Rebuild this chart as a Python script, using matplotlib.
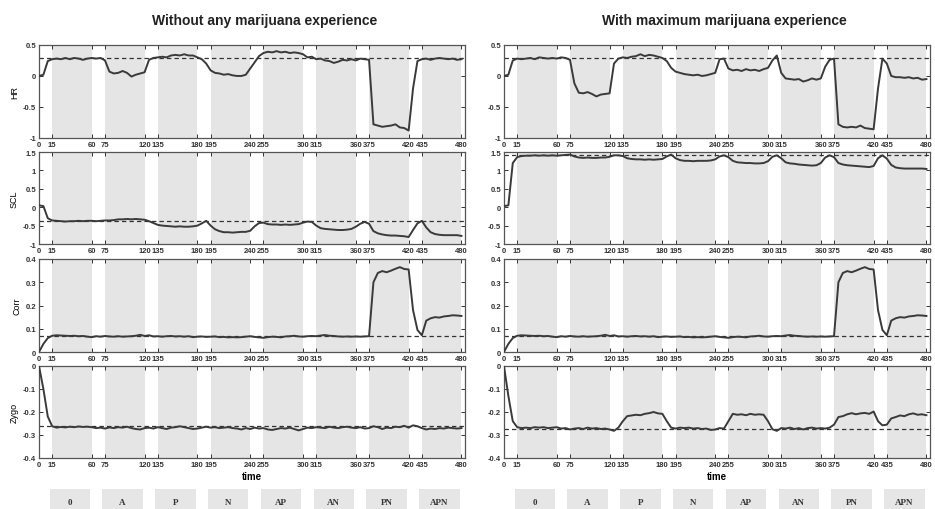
#!/usr/bin/env python3

import numpy as np
import matplotlib
matplotlib.use('Agg')
import matplotlib.pyplot as plt
from matplotlib.patches import Rectangle

plt.rcParams['font.family'] = ['Liberation Sans', 'DejaVu Sans']
plt.rcParams['axes.unicode_minus'] = False

# sampling grid (s)
TIME = np.arange(0, 485, 5)

CONDITIONS = ['0', 'A', 'P', 'N', 'AP', 'AN', 'PN', 'APN']
SEGMENT_STARTS = [15, 75, 135, 195, 255, 315, 375, 435]
SEGMENT_LEN = 45
XTICKS = [0, 15, 60, 75, 120, 135, 180, 195, 240, 255, 300, 315, 360, 375, 420, 435, 480]

TITLES = ['Without any marijuana experience', 'With maximum marijuana experience']
ROW_NAMES = ['HR', 'SCL', 'Corr', 'Zygo']

HR_LEFT = [
    0.00, 0.02, 0.24, 0.27, 0.28, 0.27, 0.29, 0.27, 0.29, 0.28, 0.26, 0.28,
    0.29, 0.28, 0.29, 0.25, 0.07, 0.04, 0.05, 0.08, 0.05, -0.01, 0.02, 0.04,
    0.06, 0.26, 0.29, 0.30, 0.31, 0.30, 0.33, 0.34, 0.33, 0.35, 0.33, 0.33,
    0.30, 0.27, 0.20, 0.09, 0.05, 0.04, 0.02, 0.03, 0.01, 0.00, 0.00, 0.02,
    0.12, 0.22, 0.32, 0.37, 0.39, 0.38, 0.40, 0.38, 0.39, 0.37, 0.38, 0.37,
    0.35, 0.30, 0.31, 0.27, 0.28, 0.25, 0.24, 0.21, 0.23, 0.26, 0.25, 0.27,
    0.25, 0.28, 0.27, 0.26, -0.78, -0.80, -0.82, -0.81, -0.80, -0.78, -0.83, -0.84,
    -0.88, -0.20, 0.24, 0.27, 0.28, 0.26, 0.28, 0.29, 0.28, 0.27, 0.28, 0.26,
    0.27]
SCL_LEFT = [
    0.05, 0.03, -0.30, -0.36, -0.37, -0.38, -0.39, -0.38, -0.38, -0.37, -0.38, -0.37,
    -0.37, -0.38, -0.37, -0.36, -0.36, -0.35, -0.33, -0.33, -0.32, -0.33, -0.32, -0.33,
    -0.34, -0.38, -0.43, -0.48, -0.50, -0.51, -0.52, -0.53, -0.52, -0.53, -0.53, -0.52,
    -0.50, -0.44, -0.37, -0.50, -0.60, -0.65, -0.68, -0.68, -0.69, -0.68, -0.67, -0.67,
    -0.64, -0.52, -0.43, -0.42, -0.46, -0.47, -0.47, -0.48, -0.47, -0.48, -0.47, -0.46,
    -0.42, -0.39, -0.40, -0.50, -0.57, -0.59, -0.60, -0.61, -0.62, -0.62, -0.61, -0.59,
    -0.53, -0.45, -0.40, -0.45, -0.65, -0.71, -0.74, -0.76, -0.77, -0.77, -0.78, -0.79,
    -0.81, -0.62, -0.44, -0.37, -0.55, -0.68, -0.73, -0.75, -0.76, -0.76, -0.76, -0.76,
    -0.78]
CORR_LEFT = [
    0.000, 0.035, 0.060, 0.070, 0.072, 0.071, 0.070, 0.069, 0.070, 0.068, 0.069, 0.066,
    0.064, 0.068, 0.066, 0.069, 0.067, 0.066, 0.068, 0.066, 0.067, 0.068, 0.070, 0.074,
    0.069, 0.072, 0.067, 0.068, 0.066, 0.068, 0.069, 0.067, 0.068, 0.066, 0.068, 0.064,
    0.066, 0.067, 0.065, 0.066, 0.067, 0.064, 0.065, 0.063, 0.064, 0.063, 0.064, 0.066,
    0.068, 0.065, 0.063, 0.061, 0.064, 0.066, 0.065, 0.063, 0.067, 0.068, 0.070, 0.067,
    0.066, 0.068, 0.069, 0.068, 0.071, 0.073, 0.070, 0.069, 0.067, 0.066, 0.067, 0.066,
    0.067, 0.066, 0.067, 0.068, 0.300, 0.340, 0.348, 0.343, 0.350, 0.358, 0.365, 0.357,
    0.355, 0.180, 0.095, 0.072, 0.135, 0.145, 0.150, 0.148, 0.153, 0.155, 0.158, 0.157,
    0.155]
ZYGO_LEFT = [
    0.000, -0.100, -0.220, -0.262, -0.268, -0.265, -0.267, -0.264, -0.266, -0.263, -0.265, -0.264,
    -0.266, -0.270, -0.268, -0.272, -0.267, -0.270, -0.266, -0.268, -0.264, -0.270, -0.274, -0.276,
    -0.270, -0.268, -0.272, -0.266, -0.270, -0.274, -0.268, -0.266, -0.262, -0.266, -0.270, -0.274,
    -0.272, -0.268, -0.264, -0.268, -0.266, -0.270, -0.268, -0.266, -0.270, -0.272, -0.276, -0.270,
    -0.274, -0.268, -0.272, -0.270, -0.276, -0.278, -0.274, -0.270, -0.272, -0.268, -0.274, -0.280,
    -0.274, -0.268, -0.270, -0.266, -0.268, -0.270, -0.264, -0.268, -0.270, -0.266, -0.264, -0.268,
    -0.270, -0.266, -0.272, -0.270, -0.262, -0.266, -0.274, -0.268, -0.270, -0.264, -0.266, -0.260,
    -0.268, -0.258, -0.262, -0.270, -0.276, -0.272, -0.274, -0.270, -0.272, -0.268, -0.270, -0.272,
    -0.270]

HR_RIGHT = [
    0.00, 0.02, 0.25, 0.28, 0.27, 0.28, 0.29, 0.27, 0.30, 0.29, 0.28, 0.29,
    0.28, 0.30, 0.29, 0.26, -0.12, -0.27, -0.28, -0.26, -0.29, -0.33, -0.30, -0.29,
    -0.28, 0.20, 0.28, 0.30, 0.29, 0.31, 0.32, 0.35, 0.32, 0.34, 0.33, 0.31,
    0.29, 0.24, 0.13, 0.07, 0.05, 0.03, 0.02, 0.01, 0.02, 0.00, 0.01, 0.03,
    0.05, 0.27, 0.28, 0.12, 0.09, 0.10, 0.08, 0.11, 0.09, 0.10, 0.08, 0.11,
    0.13, 0.25, 0.33, 0.05, -0.04, -0.05, -0.06, -0.05, -0.09, -0.07, -0.04, -0.06,
    -0.04, 0.15, 0.26, 0.28, -0.78, -0.82, -0.83, -0.82, -0.83, -0.80, -0.84, -0.85,
    -0.86, -0.20, 0.28, 0.20, 0.00, -0.02, -0.02, -0.03, -0.02, -0.04, -0.03, -0.06,
    -0.05]
SCL_RIGHT = [
    0.03, 0.05, 1.20, 1.36, 1.39, 1.40, 1.40, 1.41, 1.40, 1.41, 1.40, 1.41,
    1.40, 1.41, 1.42, 1.43, 1.38, 1.35, 1.34, 1.35, 1.34, 1.34, 1.35, 1.35,
    1.37, 1.41, 1.41, 1.39, 1.33, 1.31, 1.30, 1.30, 1.29, 1.30, 1.29, 1.30,
    1.31, 1.38, 1.43, 1.33, 1.28, 1.26, 1.26, 1.25, 1.26, 1.26, 1.26, 1.27,
    1.30, 1.38, 1.41, 1.36, 1.26, 1.22, 1.21, 1.20, 1.20, 1.19, 1.19, 1.20,
    1.25, 1.37, 1.41, 1.33, 1.22, 1.19, 1.18, 1.16, 1.15, 1.14, 1.13, 1.14,
    1.20, 1.35, 1.41, 1.36, 1.20, 1.16, 1.14, 1.13, 1.12, 1.11, 1.10, 1.09,
    1.12, 1.33, 1.41, 1.32, 1.15, 1.08, 1.06, 1.05, 1.05, 1.05, 1.05, 1.05,
    1.04]
CORR_RIGHT = [
    0.000, 0.035, 0.060, 0.070, 0.072, 0.071, 0.070, 0.069, 0.070, 0.068, 0.069, 0.066,
    0.064, 0.068, 0.066, 0.069, 0.067, 0.066, 0.068, 0.066, 0.067, 0.068, 0.070, 0.074,
    0.069, 0.072, 0.067, 0.068, 0.066, 0.068, 0.069, 0.067, 0.068, 0.066, 0.068, 0.064,
    0.066, 0.067, 0.065, 0.066, 0.067, 0.064, 0.065, 0.063, 0.064, 0.063, 0.064, 0.066,
    0.068, 0.065, 0.063, 0.061, 0.064, 0.066, 0.065, 0.063, 0.067, 0.068, 0.070, 0.067,
    0.066, 0.068, 0.069, 0.068, 0.071, 0.073, 0.070, 0.069, 0.067, 0.066, 0.067, 0.066,
    0.067, 0.066, 0.067, 0.068, 0.300, 0.340, 0.348, 0.343, 0.350, 0.358, 0.365, 0.357,
    0.355, 0.180, 0.095, 0.072, 0.135, 0.145, 0.150, 0.148, 0.153, 0.155, 0.158, 0.157,
    0.155]
ZYGO_RIGHT = [
    0.000, -0.130, -0.240, -0.266, -0.270, -0.268, -0.270, -0.266, -0.268, -0.266, -0.270, -0.268,
    -0.266, -0.272, -0.270, -0.276, -0.272, -0.270, -0.274, -0.268, -0.272, -0.270, -0.274, -0.272,
    -0.276, -0.282, -0.268, -0.240, -0.218, -0.215, -0.212, -0.214, -0.208, -0.205, -0.200, -0.206,
    -0.208, -0.240, -0.268, -0.272, -0.268, -0.270, -0.268, -0.272, -0.270, -0.274, -0.272, -0.278,
    -0.276, -0.270, -0.272, -0.240, -0.208, -0.212, -0.210, -0.214, -0.208, -0.212, -0.210, -0.212,
    -0.240, -0.275, -0.282, -0.270, -0.272, -0.268, -0.274, -0.270, -0.276, -0.270, -0.268, -0.272,
    -0.270, -0.272, -0.268, -0.255, -0.222, -0.218, -0.210, -0.205, -0.210, -0.206, -0.204, -0.208,
    -0.198, -0.240, -0.258, -0.255, -0.228, -0.222, -0.215, -0.218, -0.210, -0.206, -0.212, -0.210,
    -0.214]

# dashed reference level per panel
BASE_LEFT = [0.295, -0.37, 0.069, -0.263]
BASE_RIGHT = [0.295, 1.41, 0.069, -0.274]

YLIMS = [(-1, 0.5), (-1, 1.5), (0, 0.4), (-0.4, 0)]
YTICKS = [
    [-1, -0.5, 0, 0.5],
    [-1, -0.5, 0, 0.5, 1, 1.5],
    [0, 0.1, 0.2, 0.3, 0.4],
    [-0.4, -0.3, -0.2, -0.1, 0],
]

LINE_COLOR = '#3a3a3a'
SHADE_COLOR = '#e5e5e5'
FRAME_COLOR = '#555555'
XMAX = 484


def style_axes(ax, row, show_ylabel):
    ax.set_xlim(0, XMAX)
    ax.set_ylim(*YLIMS[row])
    ax.set_xticks(XTICKS)
    ax.set_xticklabels([str(t) for t in XTICKS], fontsize=5.5, fontweight='bold')
    ax.set_yticks(YTICKS[row])
    ax.set_yticklabels(['%g' % v for v in YTICKS[row]], fontsize=5.5, fontweight='bold')
    ax.tick_params(direction='in', length=3, width=0.7, top=True, right=True,
                   pad=2, colors='#333333')
    for sp in ax.spines.values():
        sp.set_color(FRAME_COLOR)
        sp.set_linewidth(0.9)
    if show_ylabel:
        ax.set_ylabel(ROW_NAMES[row], fontsize=6.5, labelpad=3)


def plot_panel(ax, values, base, row, show_ylabel):
    for s in SEGMENT_STARTS:
        ax.axvspan(s, s + SEGMENT_LEN, color=SHADE_COLOR, lw=0, zorder=0)
    ax.plot(TIME, values, color=LINE_COLOR, lw=1.4, zorder=3)
    ax.axhline(base, color='#333333', lw=0.9, dashes=(3.5, 2.5), zorder=2)
    style_axes(ax, row, show_ylabel)


def add_condition_boxes(fig, left):
    bx = fig.add_axes([left, 0.0, 0.4556, 0.04])
    bx.set_xlim(0, XMAX)
    bx.set_ylim(0, 1)
    bx.axis('off')
    for s, name in zip(SEGMENT_STARTS, CONDITIONS):
        x0 = s - 3
        bx.add_patch(Rectangle((x0, 0), SEGMENT_LEN + 1, 1, color='#e6e6e6', lw=0))
        bx.text(x0 + (SEGMENT_LEN + 1) / 2, 0.35, name, ha='center', va='center',
                fontsize=6.5, fontweight='bold', family=['Liberation Serif', 'DejaVu Serif'],
                color='#333333')


def main():
    fig = plt.figure(figsize=(9.35, 5.1), dpi=100)

    col_left = [0.0417, 0.539]
    width = 0.4556
    rows = [(0.7275, 0.1824), (0.5196, 0.1804), (0.3078, 0.1824), (0.1, 0.1804)]

    series = [
        [HR_LEFT, SCL_LEFT, CORR_LEFT, ZYGO_LEFT],
        [HR_RIGHT, SCL_RIGHT, CORR_RIGHT, ZYGO_RIGHT],
    ]
    bases = [BASE_LEFT, BASE_RIGHT]

    for c in range(2):
        for r in range(4):
            bottom, h = rows[r]
            ax = fig.add_axes([col_left[c], bottom, width, h])
            plot_panel(ax, series[c][r], bases[c][r], r, show_ylabel=(c == 0))
            if r == 3:
                ax.set_xlabel('time', fontsize=7, fontweight='bold', labelpad=2)
        add_condition_boxes(fig, col_left[c])

    fig.text(0.283, 0.958, TITLES[0], ha='center', va='center',
             fontsize=10, fontweight='bold', color='#222222')
    fig.text(0.775, 0.958, TITLES[1], ha='center', va='center',
             fontsize=10, fontweight='bold', color='#222222')

    fig.savefig('out.png', dpi=100)


if __name__ == '__main__':
    main()
